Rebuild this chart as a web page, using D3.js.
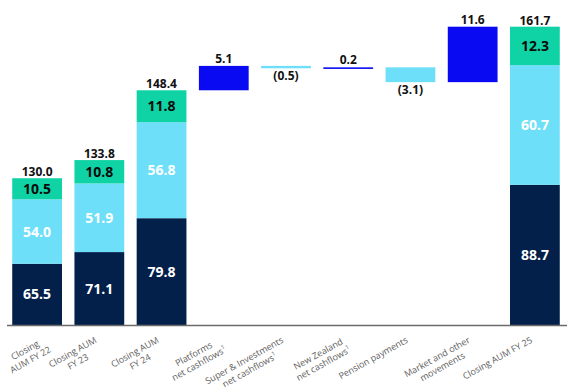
<!DOCTYPE html>
<html>
<head>
<meta charset="utf-8">
<script src="https://cdn.jsdelivr.net/npm/d3@7"></script>
<style>
  html, body { margin: 0; padding: 0; background: #fff; }
  svg { display: block; font-family: "Open Sans", "Noto Sans", sans-serif; }
</style>
</head>
<body>
<svg id="chart" width="573" height="390"></svg>
<script>
// ---------- data ----------
const categories = ["Closing AUM FY 22", "Closing AUM FY 23", "Closing AUM FY 24",
  "Platforms net cashflows", "Super & Investments net cashflows", "New Zealand net cashflows",
  "Pension payments", "Market and other movements", "Closing AUM FY 25"];
const labelLines = [
  ["Closing", "AUM FY 22"], ["Closing AUM", "FY 23"], ["Closing AUM", "FY 24"],
  ["Platforms", "net cashflows"], ["Super & Investments", "net cashflows"],
  ["New Zealand", "net cashflows"], ["Pension payments"],
  ["Market and other", "movements"], ["Closing AUM FY 25"]];
const footnotes = [null, null, null, "1", "1", "1", null, null, null];

const closingCategories = ["Closing AUM FY 22", "Closing AUM FY 23", "Closing AUM FY 24", "Closing AUM FY 25"];
const segmentBase = [65.5, 71.1, 79.8, 88.7];   // navy
const segmentMid  = [54.0, 51.9, 56.8, 60.7];   // light blue
const segmentTop  = [10.5, 10.8, 11.8, 12.3];   // green
const closingTotals = [130.0, 133.8, 148.4, 161.7];

const movementCategories = ["Platforms net cashflows", "Super & Investments net cashflows",
  "New Zealand net cashflows", "Pension payments", "Market and other movements"];
const movementValues = [5.1, -0.5, 0.2, -3.1, 11.6];

// ---------- layout / style ----------
const baseY = 325, topY = 26.7;
const axisMin = 99.3;              // truncated value axis (broken axis)
const colors = { base: "#03204a", mid: "#6ddff8", top: "#0fd3a5", up: "#0a0af2", down: "#6ddff8" };
const segPad = [0, 15, 12];        // visual padding for stacked segments inside a truncated bar

const svg = d3.select("#chart");

const x = d3.scaleBand().domain(categories).range([6, 566]).paddingInner(0.2).paddingOuter(0.1);
const y = d3.scaleLinear().domain([axisMin, d3.max(closingTotals)]).range([baseY, topY]);

// ---------- closing stacked bars ----------
const closingData = closingCategories.map((c, i) => ({
  cat: c, total: closingTotals[i], segs: [segmentBase[i], segmentMid[i], segmentTop[i]]
}));
const segColors = [colors.base, colors.mid, colors.top];
const segText = ["#ffffff", "#ffffff", "#0b0b0b"];

closingData.forEach(d => {
  const hTot = baseY - y(d.total);
  const w = d.segs.map((v, k) => v + segPad[k]);
  const sumW = d3.sum(w);
  let cur = baseY;
  d.segs.forEach((v, k) => {
    const h = hTot * w[k] / sumW;
    const y0 = cur - h;
    svg.append("rect")
      .attr("x", x(d.cat)).attr("y", y0)
      .attr("width", x.bandwidth()).attr("height", h)
      .attr("fill", segColors[k]);
    svg.append("text")
      .attr("x", x(d.cat) + x.bandwidth() / 2)
      .attr("y", y0 + h / 2)
      .attr("dy", "0.36em")
      .attr("text-anchor", "middle")
      .attr("font-size", 14).attr("font-weight", 700)
      .attr("fill", segText[k])
      .text(d3.format(".1f")(v));
    cur = y0;
  });
  svg.append("text")
    .attr("x", x(d.cat) + x.bandwidth() / 2)
    .attr("y", y(d.total) - 2)
    .attr("text-anchor", "middle")
    .attr("font-size", 12).attr("font-weight", 700)
    .attr("fill", "#111")
    .text(d3.format(".1f")(d.total));
});

// ---------- waterfall movements ----------
let running = closingTotals[2];
movementCategories.forEach((c, i) => {
  const v = movementValues[i];
  const start = running, end = running + v;
  running = end;
  const yTop = y(Math.max(start, end));
  const yBot = y(Math.min(start, end));
  const h = Math.max(yBot - yTop, 1.6);
  svg.append("rect")
    .attr("x", x(c)).attr("y", yTop)
    .attr("width", x.bandwidth()).attr("height", h)
    .attr("fill", v >= 0 ? colors.up : colors.down);
  const txt = v >= 0 ? d3.format(".1f")(v) : "(" + d3.format(".1f")(-v) + ")";
  svg.append("text")
    .attr("x", x(c) + x.bandwidth() / 2)
    .attr("y", v >= 0 ? yTop - 3 : yTop + h + 12)
    .attr("text-anchor", "middle")
    .attr("font-size", 12).attr("font-weight", 700)
    .attr("fill", "#111")
    .text(txt);
});

// ---------- axis line ----------
svg.append("line")
  .attr("x1", 7).attr("x2", 567)
  .attr("y1", baseY + 0.5).attr("y2", baseY + 0.5)
  .attr("stroke", "#6b6b6b").attr("stroke-width", 1.6);

// ---------- category labels ----------
const lineH = 11;
const svgLeft = svg.node().getBoundingClientRect().left;
categories.forEach((c, i) => {
  let tx = x(c) + x.bandwidth() / 2 - 2, ty = baseY + 17;
  const g = svg.append("g")
    .attr("transform", `translate(${tx},${ty}) rotate(-29)`);
  const lines = labelLines[i];
  const texts = lines.map((ln, j) => {
    const t = g.append("text")
      .attr("y", j * lineH)
      .attr("text-anchor", "middle")
      .attr("font-size", 9)
      .attr("fill", "#5e5e5e");
    t.append("tspan").text(ln);
    if (footnotes[i] && j === lines.length - 1) {
      t.append("tspan").attr("font-size", 6).attr("dy", -4).text(footnotes[i]);
    }
    return t;
  });
  const maxW = d3.max(texts, t => t.node().getComputedTextLength());
  texts.forEach(t => t.attr("x", -maxW / 2));
  // keep label inside the left edge
  const left = g.node().getBoundingClientRect().left - svgLeft;
  if (left < 2) {
    tx += 2 - left;
    g.attr("transform", `translate(${tx},${ty}) rotate(-29)`);
  }
});
</script>
</body>
</html>
